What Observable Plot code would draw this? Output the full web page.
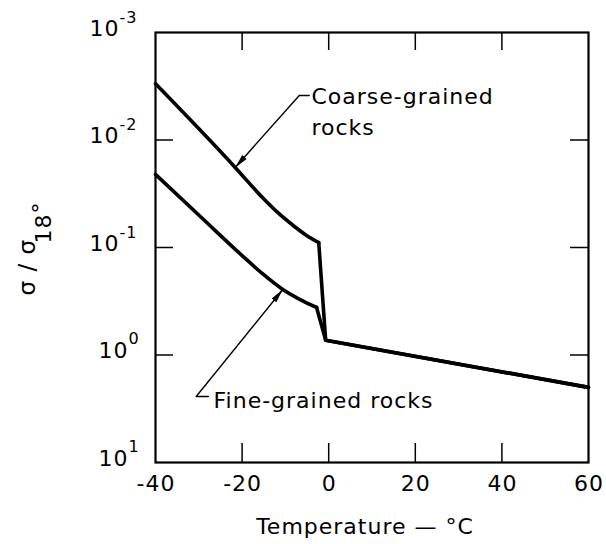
<!DOCTYPE html>
<html><head><meta charset="utf-8">
<script src="https://cdn.jsdelivr.net/npm/d3@7"></script>
<script src="https://cdn.jsdelivr.net/npm/@observablehq/plot@0.6"></script>
<style>body{margin:0;background:#fff;} svg text{letter-spacing:1px;}</style>
</head><body><div id="chart"></div>
<script>
// ---- data ----
const xTicks = [-40, -20, 0, 20, 40, 60];
const xInnerTicks = [-20, 0, 20, 40];
const yTicks = [1e-3, 1e-2, 1e-1, 1, 10];
const yExponents = ["-3", "-2", "-1", "0", "1"];
const yInnerTicks = [1e-2, 1e-1, 1];

const coarseT = [-40, -21.6, -15.3, -11.8, -8.2, -5.1, -2.3, -0.7, 60];
const coarseV = [0.0030, 0.0180, 0.0343, 0.0472, 0.0624, 0.0773, 0.090, 0.73, 2.0];
const fineT = [-40, -29.4, -20, -15.3, -10.6, -6.6, -2.8, -0.7, 60];
const fineV = [0.0209, 0.0526, 0.119, 0.175, 0.246, 0.305, 0.361, 0.73, 2.0];

const coarseLabel = "Coarse-grained\nrocks";
const fineLabel = "Fine-grained rocks";
const coarseLabelAt = [-4.0, 0.00908];
const fineLabelAt = [-26.6, 3.08];
const coarseLeaderT = [-4.5, -6.8, -21.6];
const coarseLeaderV = [0.00386, 0.00386, 0.0180];
const fineLeaderT = [-27.8, -30.6, -10.6];
const fineLeaderV = [2.43, 2.43, 0.246];

const xLabel = "Temperature — °C";
const yLabelMain = "σ / σ";
const yLabelSub = "18";
const yLabelDeg = "°";

// ---- build ----
const rows = (T, V) => T.map((t, i) => ({t, v: V[i]}));
const coarse = rows(coarseT, coarseV);
const fine = rows(fineT, fineV);
const coarseLeader = rows(coarseLeaderT, coarseLeaderV);
const fineLeader = rows(fineLeaderT, fineLeaderV);
// smooth (frozen) part runs up to the top of the drop at 0 °C; drop and thawed part are straight
const coarseSmooth = coarse.slice(0, coarse.length - 2), coarseStraight = coarse.slice(coarse.length - 3);
const fineSmooth = fine.slice(0, fine.length - 2), fineStraight = fine.slice(fine.length - 3);

const W = 606, H = 544, mL = 155, mR = 18, mT = 32, mB = 82;
const innerW = W - mL - mR, innerH = H - mT - mB;
const FONT = "DejaVu Sans";

function filledArrow(color, context) {
  const doc = (context && context.document) || document;
  const ns = "http://www.w3.org/2000/svg";
  const m = doc.createElementNS(ns, "marker");
  m.setAttribute("viewBox", "-14 -3.5 14 7");
  m.setAttribute("markerWidth", "14");
  m.setAttribute("markerHeight", "7");
  m.setAttribute("markerUnits", "userSpaceOnUse");
  m.setAttribute("orient", "auto");
  m.setAttribute("refX", "0");
  m.setAttribute("refY", "0");
  const p = doc.createElementNS(ns, "path");
  p.setAttribute("d", "M-14,-3L0,0L-14,3Z");
  p.setAttribute("fill", "black");
  p.setAttribute("stroke", "none");
  m.appendChild(p);
  return m;
}

function build(marker) {
  const neg = yTicks.map((d, i) => ({d, e: yExponents[i]})).filter(o => o.d < 1);
  const pos = yTicks.map((d, i) => ({d, e: yExponents[i]})).filter(o => o.d >= 1);
  const curveStyle = {x: "t", y: "v", stroke: "black", strokeWidth: 3.6, strokeLinejoin: "round", strokeLinecap: "round"};
  return Plot.plot({
    width: W, height: H,
    marginLeft: mL, marginRight: mR, marginTop: mT, marginBottom: mB,
    style: {fontFamily: FONT, background: "white", color: "black"},
    x: {domain: [-40, 60], axis: null},
    y: {type: "log", domain: [1e-3, 10], reverse: true, axis: null},
    marks: [
      // inward ticks
      Plot.tickX(xInnerTicks, {x: d => d, insetTop: innerH - 19, stroke: "black", strokeWidth: 1.5}),
      Plot.tickX(xInnerTicks, {x: d => d, insetBottom: innerH - 18, stroke: "black", strokeWidth: 1.5}),
      Plot.tickY(yInnerTicks, {y: d => d, insetRight: innerW - 18, stroke: "black", strokeWidth: 1.5}),
      Plot.tickY(yInnerTicks, {y: d => d, insetLeft: innerW - 18, stroke: "black", strokeWidth: 1.5}),
      Plot.frame({stroke: "black", strokeWidth: 2.2}),
      // curves
      Plot.line(coarseSmooth, {...curveStyle, curve: "monotone-x"}),
      Plot.line(coarseStraight, {...curveStyle, curve: "linear"}),
      Plot.line(fineSmooth, {...curveStyle, curve: "monotone-x"}),
      Plot.line(fineStraight, {...curveStyle, curve: "linear"}),
      // leaders
      Plot.line(coarseLeader, {x: "t", y: "v", stroke: "black", strokeWidth: 1.4, markerEnd: marker}),
      Plot.line(fineLeader, {x: "t", y: "v", stroke: "black", strokeWidth: 1.4, markerEnd: marker}),
      // labels
      Plot.text([coarseLabel], {x: () => coarseLabelAt[0], y: () => coarseLabelAt[1], text: d => d,
        textAnchor: "start", lineAnchor: "bottom", lineHeight: 1.45, fontSize: 22, fill: "black"}),
      Plot.text([fineLabel], {x: () => fineLabelAt[0], y: () => fineLabelAt[1], text: d => d,
        textAnchor: "start", lineAnchor: "bottom", fontSize: 22, fill: "black"}),
      // x tick labels
      Plot.text(xTicks, {x: d => d, frameAnchor: "bottom", dy: 21, dx: 0.5, text: d => String(d),
        lineAnchor: "middle", fontSize: 22, fill: "black"}),
      // y tick labels: base and exponent
      Plot.text(neg, {y: "d", frameAnchor: "left", dx: -36, dy: -4, text: () => "10",
        textAnchor: "end", lineAnchor: "middle", fontSize: 22, fill: "black"}),
      Plot.text(neg, {y: "d", frameAnchor: "left", dx: -36, dy: -15, text: "e",
        textAnchor: "start", lineAnchor: "middle", fontSize: 16, fill: "black"}),
      Plot.text(pos, {y: "d", frameAnchor: "left", dx: -27, dy: -4, text: () => "10",
        textAnchor: "end", lineAnchor: "middle", fontSize: 22, fill: "black"}),
      Plot.text(pos, {y: "d", frameAnchor: "left", dx: -27, dy: -16, text: "e",
        textAnchor: "start", lineAnchor: "middle", fontSize: 16, fill: "black"}),
      // axis labels
      Plot.text([xLabel], {frameAnchor: "bottom", dx: -7, dy: 71, text: d => d,
        lineAnchor: "bottom", fontSize: 22, fill: "black"}),
      Plot.text([yLabelMain], {frameAnchor: "left", dx: -121, dy: 48, rotate: -90, text: d => d,
        textAnchor: "start", lineAnchor: "bottom", fontSize: 23, fill: "black"}),
      Plot.text([yLabelSub], {frameAnchor: "left", dx: -105, dy: -4, rotate: -90, text: d => d,
        textAnchor: "start", lineAnchor: "bottom", fontSize: 22, fill: "black"}),
      Plot.text([yLabelDeg], {frameAnchor: "left", dx: -108, dy: -34, rotate: -90, text: d => d,
        textAnchor: "start", lineAnchor: "bottom", fontSize: 22, fill: "black"})
    ]
  });
}

let chart;
try { chart = build(filledArrow); } catch (e) { chart = build("arrow"); }
document.getElementById("chart").appendChild(chart);
</script></body></html>
